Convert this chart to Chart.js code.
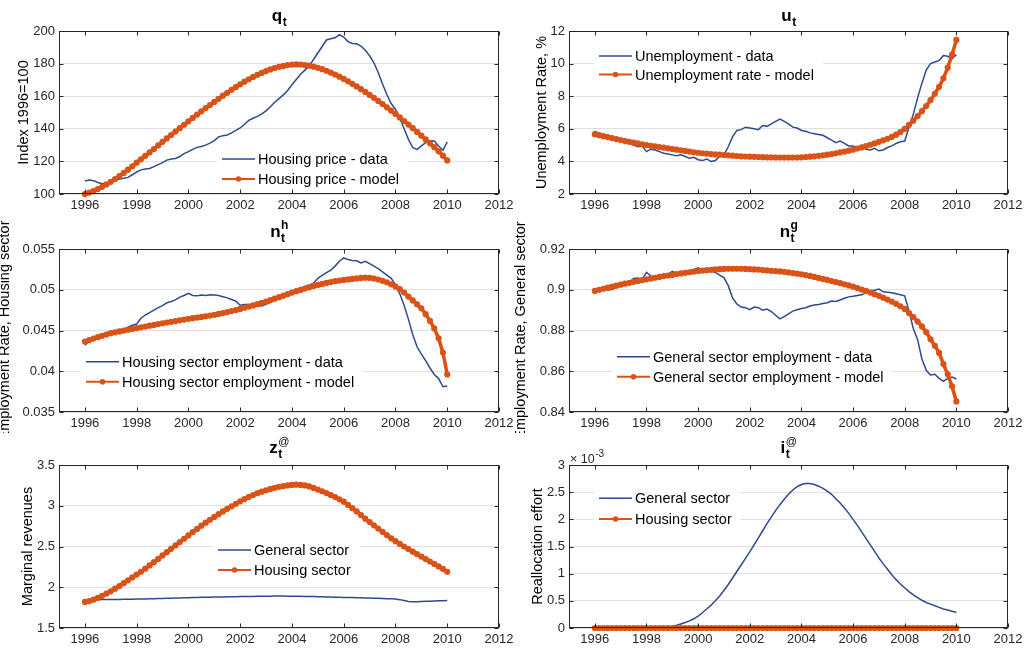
<!DOCTYPE html>
<html>
<head>
<meta charset="utf-8">
<script src="https://cdn.jsdelivr.net/npm/chart.js@4.4.1/dist/chart.umd.min.js"></script>
<style>
  body { margin: 0; background: #fff; width: 1029px; height: 649px; overflow: hidden; position: relative; }
  canvas { position: absolute; }
</style>
</head>
<body>
<canvas id="c1" width="520" height="215" style="left:0px;top:0px"></canvas>
<canvas id="c2" width="519" height="215" style="left:510px;top:0px"></canvas>
<canvas id="c3" width="520" height="215" style="left:0px;top:218px"></canvas>
<canvas id="c4" width="519" height="215" style="left:510px;top:218px"></canvas>
<canvas id="c5" width="520" height="215" style="left:0px;top:434px"></canvas>
<canvas id="c6" width="519" height="215" style="left:510px;top:434px"></canvas>
<script>
// time axis: observations every two months, Jan 1996 .. Jan 2010
const startYear = 1996;
const stepsPerYear = 6;
const xYears = [1996, 1998, 2000, 2002, 2004, 2006, 2008, 2010, 2012];

// q_t : housing price index
const priceData = [
  108, 108.6, 108.2, 107.1, 106.3, 106.6,
  107.8, 108.6, 109.2, 109.6, 110.2, 111.8,
  113.5, 114.8, 115.3, 115.7, 116.8, 118,
  119.2, 120.8, 121.5, 121.8, 123, 124.8,
  126, 127.4, 128.6, 129.2, 130, 131.2,
  132.8, 135, 135.8, 136.2, 137.5, 139,
  140.5, 142.8, 145.2, 146.5, 147.6, 149.2,
  151, 153.5, 156.3, 158.5, 160.8, 163.5,
  167, 170.3, 173.5, 176, 178.5, 182.5,
  186.5, 190.5, 194.5, 195.3, 195.8, 197.8,
  196.3, 193.5, 192.3, 192.2, 190.8, 188.2,
  184.8, 180.5, 174.5, 167.5, 161, 155.5,
  152, 146.5, 140, 133.5, 128.5, 127.2,
  129.5, 131.5, 132.7, 132.5, 129.5, 126.8,
  132
];
const priceModel = [
  100, 100.8, 101.8, 103, 104.4, 105.9,
  107.5, 109.2, 111, 112.9, 114.9, 117,
  119.2, 121.3, 123.4, 125.5, 127.6, 129.8,
  132, 134.1, 136.2, 138.3, 140.4, 142.5,
  144.6, 146.7, 148.7, 150.7, 152.7, 154.6,
  156.5, 158.4, 160.3, 162.1, 163.9, 165.6,
  167.3, 168.9, 170.4, 171.8, 173.1, 174.3,
  175.4, 176.4, 177.3, 178, 178.6, 179.1,
  179.4, 179.5, 179.4, 179.1, 178.7, 178.1,
  177.4, 176.6, 175.6, 174.5, 173.3, 172,
  170.6, 169.1, 167.6, 166, 164.3, 162.6,
  160.8, 159, 157.1, 155.2, 153.2, 151.2,
  149.1, 147, 144.8, 142.6, 140.4, 138.1,
  135.8, 133.5, 131.1, 128.7, 126.2, 123.5,
  120.6
];

// u_t : unemployment rate, %
const unempData = [
  5.85, 5.7, 5.5, 5.55, 5.45, 5.35,
  5.3, 5.2, 5.15, 5.0, 4.9, 4.95,
  4.6, 4.75, 4.7, 4.6, 4.5, 4.45,
  4.4, 4.35, 4.4, 4.3, 4.2, 4.25,
  4.1, 4.05, 4.15, 4.0, 4.05, 4.3,
  4.4, 4.9, 5.5, 5.9, 5.95, 6.1,
  6.05, 6.0, 5.95, 6.2, 6.15, 6.3,
  6.45, 6.6, 6.45, 6.3, 6.1, 6.05,
  5.9, 5.85, 5.75, 5.7, 5.65, 5.6,
  5.45, 5.3, 5.15, 5.25, 5.1, 4.95,
  4.95, 4.85, 4.9, 4.75, 4.7, 4.8,
  4.65, 4.7, 4.85, 4.95, 5.1, 5.2,
  5.25, 6.1, 6.9, 7.9, 8.8, 9.6,
  10.0, 10.1, 10.2, 10.5, 10.45, 10.3,
  10.55
];
const unempModel = [
  5.67, 5.61, 5.55, 5.49, 5.43, 5.37,
  5.31, 5.25, 5.2, 5.15, 5.1, 5.05,
  5.0, 4.96, 4.92, 4.88, 4.84, 4.8,
  4.76, 4.72, 4.68, 4.64, 4.6, 4.56,
  4.53, 4.5, 4.48, 4.45, 4.43, 4.41,
  4.39, 4.37, 4.35, 4.33, 4.31, 4.3,
  4.29, 4.28, 4.27, 4.26, 4.25, 4.25,
  4.24, 4.24, 4.24, 4.24, 4.24, 4.24,
  4.25, 4.27, 4.29, 4.31, 4.34, 4.37,
  4.41, 4.45, 4.5, 4.55, 4.6, 4.66,
  4.72, 4.79, 4.86, 4.94, 5.02, 5.1,
  5.2, 5.29, 5.39, 5.5, 5.64, 5.8,
  6.0, 6.25, 6.5, 6.78, 7.08, 7.4,
  7.76, 8.15, 8.58, 9.1, 9.75, 10.55,
  11.45
];

// n_t^h : employment rate, housing sector
const housingEmpData = [
  0.0432, 0.04372, 0.0441, 0.0443, 0.04455, 0.04475,
  0.0448, 0.04495, 0.0451, 0.04515, 0.0454, 0.04565,
  0.0458, 0.0465, 0.0469, 0.0472, 0.0475, 0.0478,
  0.04805, 0.0484, 0.04855, 0.04875, 0.0491, 0.0493,
  0.04955, 0.0493, 0.04925, 0.04935, 0.0493, 0.0494,
  0.04935, 0.0493, 0.04915, 0.049, 0.0488, 0.0486,
  0.0481, 0.0482, 0.0482, 0.04815, 0.0481, 0.048,
  0.0482, 0.04845, 0.0487, 0.0489, 0.0492, 0.04945,
  0.0497, 0.0499, 0.0502, 0.0504, 0.05055, 0.0508,
  0.0514, 0.05175, 0.0521, 0.0524, 0.0529, 0.0535,
  0.0539, 0.0537, 0.0536, 0.05355, 0.0533, 0.0535,
  0.0532, 0.0529, 0.0526, 0.0522, 0.0518, 0.0514,
  0.0506, 0.0495, 0.0481, 0.0464, 0.0445, 0.043,
  0.0421, 0.0413, 0.0404, 0.0396, 0.0391, 0.0381,
  0.0382
];
const housingEmpModel = [
  0.04365, 0.04383, 0.04401, 0.04418, 0.04435, 0.04451,
  0.04467, 0.04478, 0.04489, 0.04499, 0.04509, 0.04519,
  0.04529, 0.04539, 0.04549, 0.04559, 0.04569, 0.04579,
  0.04589, 0.04598, 0.04607, 0.04616, 0.04625, 0.04634,
  0.04643, 0.04651, 0.04659, 0.04667, 0.04675, 0.04683,
  0.04692, 0.04703, 0.04714, 0.04726, 0.04738, 0.04751,
  0.04765, 0.04779, 0.04793, 0.04808, 0.04823, 0.04839,
  0.04855, 0.04873, 0.04891, 0.04909, 0.04927, 0.04946,
  0.04965, 0.04982, 0.04998, 0.05014, 0.0503, 0.05045,
  0.05059, 0.05072, 0.05084, 0.05095, 0.05105, 0.05113,
  0.0512, 0.05127, 0.05133, 0.05139, 0.05145, 0.05148,
  0.05146, 0.05138, 0.05126, 0.0511, 0.05091, 0.05067,
  0.05039, 0.05007, 0.04966, 0.04916, 0.04869, 0.04821,
  0.04773, 0.047, 0.04618, 0.04525, 0.04405, 0.0423,
  0.0396
];

// n_t^g : employment rate, general sector
const generalEmpData = [
  0.8985, 0.8995, 0.9005, 0.8998, 0.9002, 0.9012,
  0.902, 0.9032, 0.9038, 0.9055, 0.9058, 0.9052,
  0.9085, 0.9068, 0.9062, 0.906, 0.9068, 0.9075,
  0.909, 0.908, 0.9085, 0.9088, 0.9095, 0.9098,
  0.9108, 0.9098, 0.9095, 0.9092, 0.9085, 0.9072,
  0.906, 0.902, 0.896, 0.893, 0.8915, 0.8912,
  0.8902, 0.8915, 0.8912, 0.89, 0.8905, 0.8893,
  0.8875, 0.8857, 0.8868, 0.8882, 0.8895, 0.8902,
  0.8908, 0.8912, 0.892, 0.8925, 0.8928, 0.8932,
  0.8936, 0.8945, 0.8942, 0.895, 0.8958, 0.8965,
  0.8968, 0.8972, 0.8975, 0.8985, 0.8995, 0.8998,
  0.9003, 0.899, 0.8988, 0.8985, 0.898, 0.8975,
  0.897, 0.8895, 0.881, 0.8755, 0.866, 0.8605,
  0.8582, 0.8585, 0.8565, 0.855, 0.8565, 0.8572,
  0.8562
];
const generalEmpModel = [
  0.8994, 0.9, 0.9005, 0.901, 0.9015, 0.902,
  0.9025, 0.903, 0.9034, 0.9039, 0.9043, 0.9047,
  0.9051, 0.9055, 0.9059, 0.9063, 0.9067, 0.907,
  0.9073, 0.9077, 0.908, 0.9083, 0.9086, 0.9089,
  0.9092, 0.9094, 0.9096, 0.9098, 0.91, 0.9101,
  0.9102, 0.9103, 0.9103, 0.9103, 0.9103, 0.9102,
  0.9101, 0.91, 0.9099, 0.9097, 0.9095, 0.9093,
  0.9092, 0.909, 0.9088, 0.9085, 0.9082, 0.9079,
  0.9076, 0.9072, 0.9068, 0.9063, 0.9058, 0.9053,
  0.9048, 0.9043, 0.9038, 0.9033, 0.9027, 0.9021,
  0.9015, 0.9008, 0.9001, 0.8994, 0.8986, 0.8978,
  0.897, 0.8961, 0.8952, 0.8942, 0.8931, 0.8919,
  0.8906, 0.8886, 0.8866, 0.8844, 0.882, 0.8792,
  0.8757, 0.8725, 0.869, 0.8635, 0.8585, 0.8526,
  0.8452
];

// z_t^@ : marginal revenues
const zGeneral = [
  1.83, 1.838, 1.845, 1.848, 1.849, 1.85,
  1.85, 1.85, 1.851, 1.852, 1.853, 1.854,
  1.855, 1.856, 1.857, 1.859, 1.86, 1.862,
  1.863, 1.865, 1.866, 1.868, 1.869, 1.871,
  1.872, 1.873, 1.875, 1.876, 1.877, 1.878,
  1.879, 1.88, 1.881, 1.882, 1.883, 1.884,
  1.885, 1.886, 1.887, 1.888, 1.889, 1.89,
  1.891, 1.891, 1.892, 1.892, 1.892, 1.891,
  1.891, 1.89, 1.889, 1.888, 1.886, 1.885,
  1.883, 1.882, 1.88, 1.879, 1.877, 1.876,
  1.875, 1.874, 1.873, 1.872, 1.871, 1.869,
  1.868, 1.866, 1.864, 1.862, 1.86, 1.858,
  1.855, 1.848, 1.838, 1.826, 1.822, 1.823,
  1.825, 1.827, 1.829, 1.831, 1.833, 1.835,
  1.837
];
const zHousing = [
  1.82, 1.83, 1.848, 1.87, 1.895, 1.922,
  1.95, 1.982, 2.015, 2.05, 2.085, 2.12,
  2.155, 2.19, 2.228, 2.268, 2.308, 2.348,
  2.39, 2.43, 2.472, 2.513, 2.554, 2.595,
  2.636, 2.676, 2.716, 2.755, 2.792, 2.828,
  2.863, 2.897, 2.93, 2.962, 2.993, 3.024,
  3.054, 3.082, 3.108, 3.132, 3.154, 3.173,
  3.19, 3.206, 3.22, 3.232, 3.242, 3.25,
  3.256, 3.258, 3.256, 3.249, 3.237, 3.219,
  3.198, 3.178, 3.156, 3.132, 3.106, 3.079,
  3.05, 3.01, 2.97, 2.93, 2.885, 2.842,
  2.8, 2.76, 2.72, 2.68, 2.64, 2.6,
  2.565, 2.532, 2.5, 2.468, 2.437, 2.406,
  2.376, 2.346, 2.316, 2.286, 2.256, 2.226,
  2.19
];

// i_t^@ : reallocation effort, in units of 1e-3
const iGeneral = [
  0, 0, 0, 0, 0, 0,
  0, 0, 0, 0, 0, 0,
  0, 0, 0, 0.005, 0.01, 0.02,
  0.03, 0.05, 0.075, 0.1, 0.13, 0.17,
  0.22, 0.28, 0.35, 0.42, 0.5, 0.59,
  0.69, 0.8, 0.92, 1.04, 1.16, 1.28,
  1.4, 1.53, 1.66, 1.79, 1.92, 2.04,
  2.16, 2.27, 2.37, 2.46, 2.54, 2.6,
  2.64, 2.66, 2.66, 2.64, 2.61, 2.57,
  2.52, 2.46, 2.38, 2.3, 2.21, 2.11,
  2.0, 1.89, 1.77, 1.65, 1.53, 1.41,
  1.29, 1.18, 1.08, 0.98, 0.89, 0.81,
  0.74, 0.67, 0.61, 0.56, 0.51, 0.47,
  0.44, 0.41, 0.38, 0.35, 0.33, 0.31,
  0.29
];
const iHousing = [
  0, 0, 0, 0, 0, 0,
  0, 0, 0, 0, 0, 0,
  0, 0, 0, 0, 0, 0,
  0, 0, 0, 0, 0, 0,
  0, 0, 0, 0, 0, 0,
  0, 0, 0, 0, 0, 0,
  0, 0, 0, 0, 0, 0,
  0, 0, 0, 0, 0, 0,
  0, 0, 0, 0, 0, 0,
  0, 0, 0, 0, 0, 0,
  0, 0, 0, 0, 0, 0,
  0, 0, 0, 0, 0, 0,
  0, 0, 0, 0, 0, 0,
  0, 0, 0, 0, 0, 0,
  0
];

// y tick values per panel
const priceTicks = [100, 120, 140, 160, 180, 200];
const unempTicks = [2, 4, 6, 8, 10, 12];
const housingEmpTicks = [0.035, 0.04, 0.045, 0.05, 0.055];
const generalEmpTicks = [0.84, 0.86, 0.88, 0.9, 0.92];
const zTicks = [1.5, 2, 2.5, 3, 3.5];
const iTicks = [0, 0.5, 1, 1.5, 2, 2.5, 3];

const BLUE = '#2d4a8c';
const ORANGE = '#d95319';
const AXIS = '#262626';
const GRID = '#e0e0e0';
const FONT = '"Liberation Sans", Arial, Helvetica, sans-serif';

function series(values) {
    return values.map((v, i) => ({ x: startYear + i / stepsPerYear, y: v }));
}

function dataLine(label, values) {
    return { label, data: series(values), borderColor: BLUE, borderWidth: 1.5,
             pointRadius: 0, order: 2, clip: false };
}

function modelLine(label, values) {
    return { label, data: series(values), borderColor: ORANGE, backgroundColor: ORANGE,
             borderWidth: 3.6, pointRadius: 3.1, pointBorderWidth: 0,
             pointBackgroundColor: ORANGE, order: 1, clip: false };
}

// titles, legend, box, tick marks drawn by hand (matlab-like look)
const decor = {
    id: 'decor',
    afterDatasetsDraw(chart, args, o) {
        const ctx = chart.ctx;
        const lg = o.legend;
        const items = chart.data.datasets.map(d => ({ label: d.label, color: d.borderColor, marker: d.pointRadius > 0 }));
        ctx.save();
        ctx.font = '14.5px ' + FONT;
        const textX = lg.x + 36;
        let w = 0;
        items.forEach(it => { w = Math.max(w, ctx.measureText(it.label).width); });
        const top = lg.rows[0] - 13;
        const bottom = lg.rows[lg.rows.length - 1] + 13;
        ctx.fillStyle = '#ffffff';
        ctx.fillRect(lg.x - 5, top, textX + w + 9 - (lg.x - 5), bottom - top);
        items.forEach((it, k) => {
            const y = lg.rows[k];
            ctx.beginPath();
            ctx.moveTo(lg.x, y);
            ctx.lineTo(lg.x + 33, y);
            ctx.strokeStyle = it.color;
            ctx.lineWidth = it.marker ? 2 : 1.5;
            ctx.stroke();
            if (it.marker) {
                ctx.beginPath();
                ctx.arc(lg.x + 16.5, y, 2.8, 0, Math.PI * 2);
                ctx.fillStyle = it.color;
                ctx.fill();
            }
            ctx.fillStyle = '#000';
            ctx.textAlign = 'left';
            ctx.textBaseline = 'middle';
            ctx.fillText(it.label, textX, y + 1);
        });
        ctx.restore();
    },
    afterDraw(chart, args, o) {
        const { ctx, chartArea: a, scales } = chart;
        const L = Math.round(a.left) + 0.5, R = Math.round(a.right) - 0.5;
        const T = Math.round(a.top) + 0.5, B = Math.round(a.bottom) - 0.5;
        ctx.save();
        ctx.strokeStyle = AXIS;
        ctx.lineWidth = 1;
        ctx.strokeRect(L, T, R - L, B - T);
        ctx.beginPath();
        xYears.forEach(v => {
            const px = Math.round(scales.x.getPixelForValue(v)) + 0.5;
            ctx.moveTo(px, B); ctx.lineTo(px, B - 4);
            ctx.moveTo(px, T); ctx.lineTo(px, T + 4);
        });
        scales.y.ticks.forEach(t => {
            const py = Math.round(scales.y.getPixelForValue(t.value)) + 0.5;
            ctx.moveTo(L, py); ctx.lineTo(L + 4, py);
            ctx.moveTo(R, py); ctx.lineTo(R - 4, py);
        });
        ctx.stroke();

        // panel title with sub/superscript
        const t = o.title;
        ctx.fillStyle = '#000';
        ctx.textAlign = 'left';
        ctx.textBaseline = 'alphabetic';
        const mainFont = 'bold 17px ' + FONT;
        const subFont = 'bold 12px ' + FONT;
        const supFont = (t.sup === '@' ? '11px ' : 'bold 12px ') + FONT;
        ctx.font = mainFont;
        const wm = ctx.measureText(t.main).width;
        ctx.font = subFont;
        let ws = ctx.measureText(t.sub).width;
        if (t.sup) { ctx.font = supFont; ws = Math.max(ws, ctx.measureText(t.sup).width); }
        const x0 = (a.left + a.right) / 2 - (wm + ws) / 2;
        const base = a.top - (t.sup ? 12.5 : 10);
        ctx.font = mainFont;
        ctx.fillText(t.main, x0, base);
        ctx.font = subFont;
        ctx.fillText(t.sub, x0 + wm + 0.5, base + 5);
        if (t.sup) {
            ctx.font = supFont;
            ctx.fillText(t.sup, x0 + wm + 0.5, base - 8);
        }

        // y axis title
        ctx.save();
        ctx.translate(o.yTitleX, (a.top + a.bottom) / 2);
        ctx.rotate(-Math.PI / 2);
        ctx.textAlign = 'center';
        ctx.textBaseline = 'middle';
        ctx.font = '14.5px ' + FONT;
        ctx.fillStyle = '#000';
        ctx.fillText(o.yTitle, 0, 0);
        ctx.restore();

        // axis exponent label
        if (o.exponent) {
            ctx.font = '12.5px ' + FONT;
            ctx.fillStyle = AXIS;
            ctx.textAlign = 'left';
            const ex = a.left + 1;
            const ey = a.top - 2;
            ctx.fillText('\u00d7 10', ex, ey);
            const we = ctx.measureText('\u00d7 10').width;
            ctx.font = '10px ' + FONT;
            ctx.fillText(o.exponent, ex + we + 0.5, ey - 6);
        }
        ctx.restore();
    }
};

function makePanel(id, datasets, yTicks, yTitle, yTitleX, title, legend, exponent) {
    const tickFont = { family: FONT, size: 13 };
    new Chart(document.getElementById(id), {
        type: 'line',
        data: { datasets },
        options: {
            responsive: false,
            animation: false,
            events: [],
            layout: { padding: { top: 31, right: 21, left: 0, bottom: 0 } },
            plugins: {
                legend: { display: false },
                tooltip: { enabled: false },
                decor: { title, yTitle, yTitleX, legend, exponent }
            },
            scales: {
                x: {
                    type: 'linear', min: 1995, max: 2012,
                    afterBuildTicks: s => { s.ticks = xYears.map(v => ({ value: v })); },
                    afterFit: s => { s.height = 21; },
                    grid: { display: false },
                    border: { display: false },
                    ticks: { color: AXIS, font: tickFont, padding: -4, maxRotation: 0, autoSkip: false,
                             callback: v => String(v) }
                },
                y: {
                    min: yTicks[0], max: yTicks[yTicks.length - 1],
                    afterBuildTicks: s => { s.ticks = yTicks.map(v => ({ value: v })); },
                    afterFit: s => { s.width = 59; },
                    grid: { color: GRID, drawTicks: false },
                    border: { display: false },
                    ticks: { color: AXIS, font: tickFont, padding: 4,
                             callback: v => String(+v.toFixed(4)) }
                }
            }
        },
        plugins: [decor]
    });
}

makePanel('c1',
    [dataLine('Housing price - data', priceData), modelLine('Housing price - model', priceModel)],
    priceTicks, 'Index 1996=100', 24, { main: 'q', sub: 't' },
    { x: 222, rows: [159, 179] });

makePanel('c2',
    [dataLine('Unemployment - data', unempData), modelLine('Unemployment rate - model', unempModel)],
    unempTicks, 'Unemployment Rate, %', 32, { main: 'u', sub: 't' },
    { x: 89, rows: [56, 74.5] });

makePanel('c3',
    [dataLine('Housing sector employment - data', housingEmpData),
     modelLine('Housing sector employment - model', housingEmpModel)],
    housingEmpTicks, 'Employment Rate, Housing sector', 5, { main: 'n', sub: 't', sup: 'h' },
    { x: 86, rows: [143.7, 163.7] });

makePanel('c4',
    [dataLine('General sector employment - data', generalEmpData),
     modelLine('General sector employment - model', generalEmpModel)],
    generalEmpTicks, 'Employment Rate, General sector', 11, { main: 'n', sub: 't', sup: 'g' },
    { x: 107, rows: [138.7, 158.7] });

makePanel('c5',
    [dataLine('General sector', zGeneral), modelLine('Housing sector', zHousing)],
    zTicks, 'Marginal revenues', 28, { main: 'z', sub: 't', sup: '@' },
    { x: 218, rows: [116, 136] });

makePanel('c6',
    [dataLine('General sector', iGeneral), modelLine('Housing sector', iHousing)],
    iTicks, 'Reallocation effort', 28, { main: 'i', sub: 't', sup: '@' },
    { x: 89, rows: [64.3, 85] }, '-3');
</script>
</body>
</html>
